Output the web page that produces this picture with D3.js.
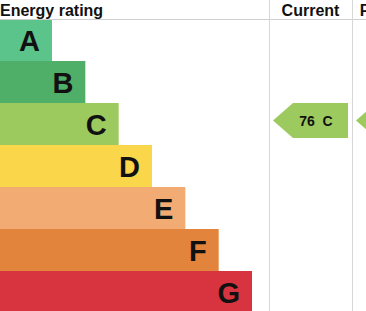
<!DOCTYPE html>
<html>
<head>
<meta charset="utf-8">
<script src="https://cdn.jsdelivr.net/npm/d3@7"></script>
<style>
  body { margin: 0; background: #fff; }
  svg { display: block; font-family: "Liberation Sans", Arial, sans-serif; }
</style>
</head>
<body>
<svg id="epc"></svg>
<script>
// rating bands, top (best) to bottom (worst)
var ratings = ["A", "B", "C", "D", "E", "F", "G"]
var bandColors = ["#5bc48a", "#4fae67", "#9dca5e", "#fad64b", "#f1ab73", "#e2843c", "#d7343f"]
var bandSteps = [1, 2, 3, 4, 5, 6, 7]
var columns = ["Current", "Potential"]
var currentScore = 76
var currentRating = "C"
var potentialScore = 80
var potentialRating = "C"

var dimensions = {
    width: 366,
    height: 311,
    headerHeight: 19,
    bandWidth: 42
}

var svg = d3.select("#epc")
    .attr("width", dimensions.width)
    .attr("height", dimensions.height)

var yScale = d3.scaleBand()
    .domain(ratings)
    .range([dimensions.headerHeight, dimensions.headerHeight + dimensions.bandWidth * ratings.length])
    .padding(0)

var xScale = d3.scaleLinear()
    .domain([1, 7])
    .range([52, 252])

var colScale = d3.scaleBand()
    .domain(columns)
    .range([269, 269 + 83 * columns.length])

var colorScale = d3.scaleOrdinal().domain(ratings).range(bandColors)

// bars
svg.append("g")
    .selectAll("rect")
    .data(ratings)
    .enter()
    .append("rect")
    .attr("x", 0)
    .attr("y", d => yScale(d))
    .attr("width", (d, i) => xScale(bandSteps[i]))
    .attr("height", yScale.bandwidth())
    .attr("fill", d => colorScale(d))

svg.append("g")
    .selectAll("text")
    .data(ratings)
    .enter()
    .append("text")
    .attr("x", (d, i) => xScale(bandSteps[i]) - 12)
    .attr("y", d => yScale(d) + yScale.bandwidth() / 2 + 10.5)
    .attr("text-anchor", "end")
    .attr("font-size", 29)
    .attr("font-weight", "bold")
    .attr("fill", "#111")
    .text(d => d)

// grid lines
svg.append("line")
    .attr("x1", 0).attr("x2", dimensions.width)
    .attr("y1", dimensions.headerHeight + 0.5).attr("y2", dimensions.headerHeight + 0.5)
    .attr("stroke", "#cfcfcf")

svg.append("g")
    .selectAll("line")
    .data(columns)
    .enter()
    .append("line")
    .attr("x1", d => colScale(d) + 0.5)
    .attr("x2", d => colScale(d) + 0.5)
    .attr("y1", 0)
    .attr("y2", dimensions.height)
    .attr("stroke", "#d6d6d6")

// headers
svg.append("text")
    .attr("x", 0)
    .attr("y", 15.5)
    .attr("font-size", 16)
    .attr("font-weight", "bold")
    .attr("fill", "#111")
    .text("Energy rating")

svg.append("g")
    .selectAll("text")
    .data(columns)
    .enter()
    .append("text")
    .attr("x", d => colScale(d) + colScale.bandwidth() / 2)
    .attr("y", 15.5)
    .attr("text-anchor", "middle")
    .attr("font-size", 16)
    .attr("font-weight", "bold")
    .attr("fill", "#111")
    .text(d => d)

// arrows
var arrows = [
    {col: "Current", score: currentScore, rating: currentRating},
    {col: "Potential", score: potentialScore, rating: potentialRating}
]
var arrowH = 35
var tip = 20

var arrowG = svg.append("g")
    .selectAll("g")
    .data(arrows)
    .enter()
    .append("g")
    .attr("transform", d => `translate(${colScale(d.col) + 4},${yScale(d.rating)})`)

arrowG.append("path")
    .attr("d", `M0,${arrowH / 2} L${tip},0 L${colScale.bandwidth() - 8},0 L${colScale.bandwidth() - 8},${arrowH} L${tip},${arrowH} Z`)
    .attr("fill", d => colorScale(d.rating))

arrowG.append("text")
    .attr("x", 43)
    .attr("y", arrowH / 2 + 5)
    .attr("text-anchor", "middle")
    .attr("font-size", 14)
    .attr("font-weight", "bold")
    .attr("fill", "#111")
    .attr("xml:space", "preserve")
    .text(d => d.score + "  " + d.rating)
</script>
</body>
</html>
